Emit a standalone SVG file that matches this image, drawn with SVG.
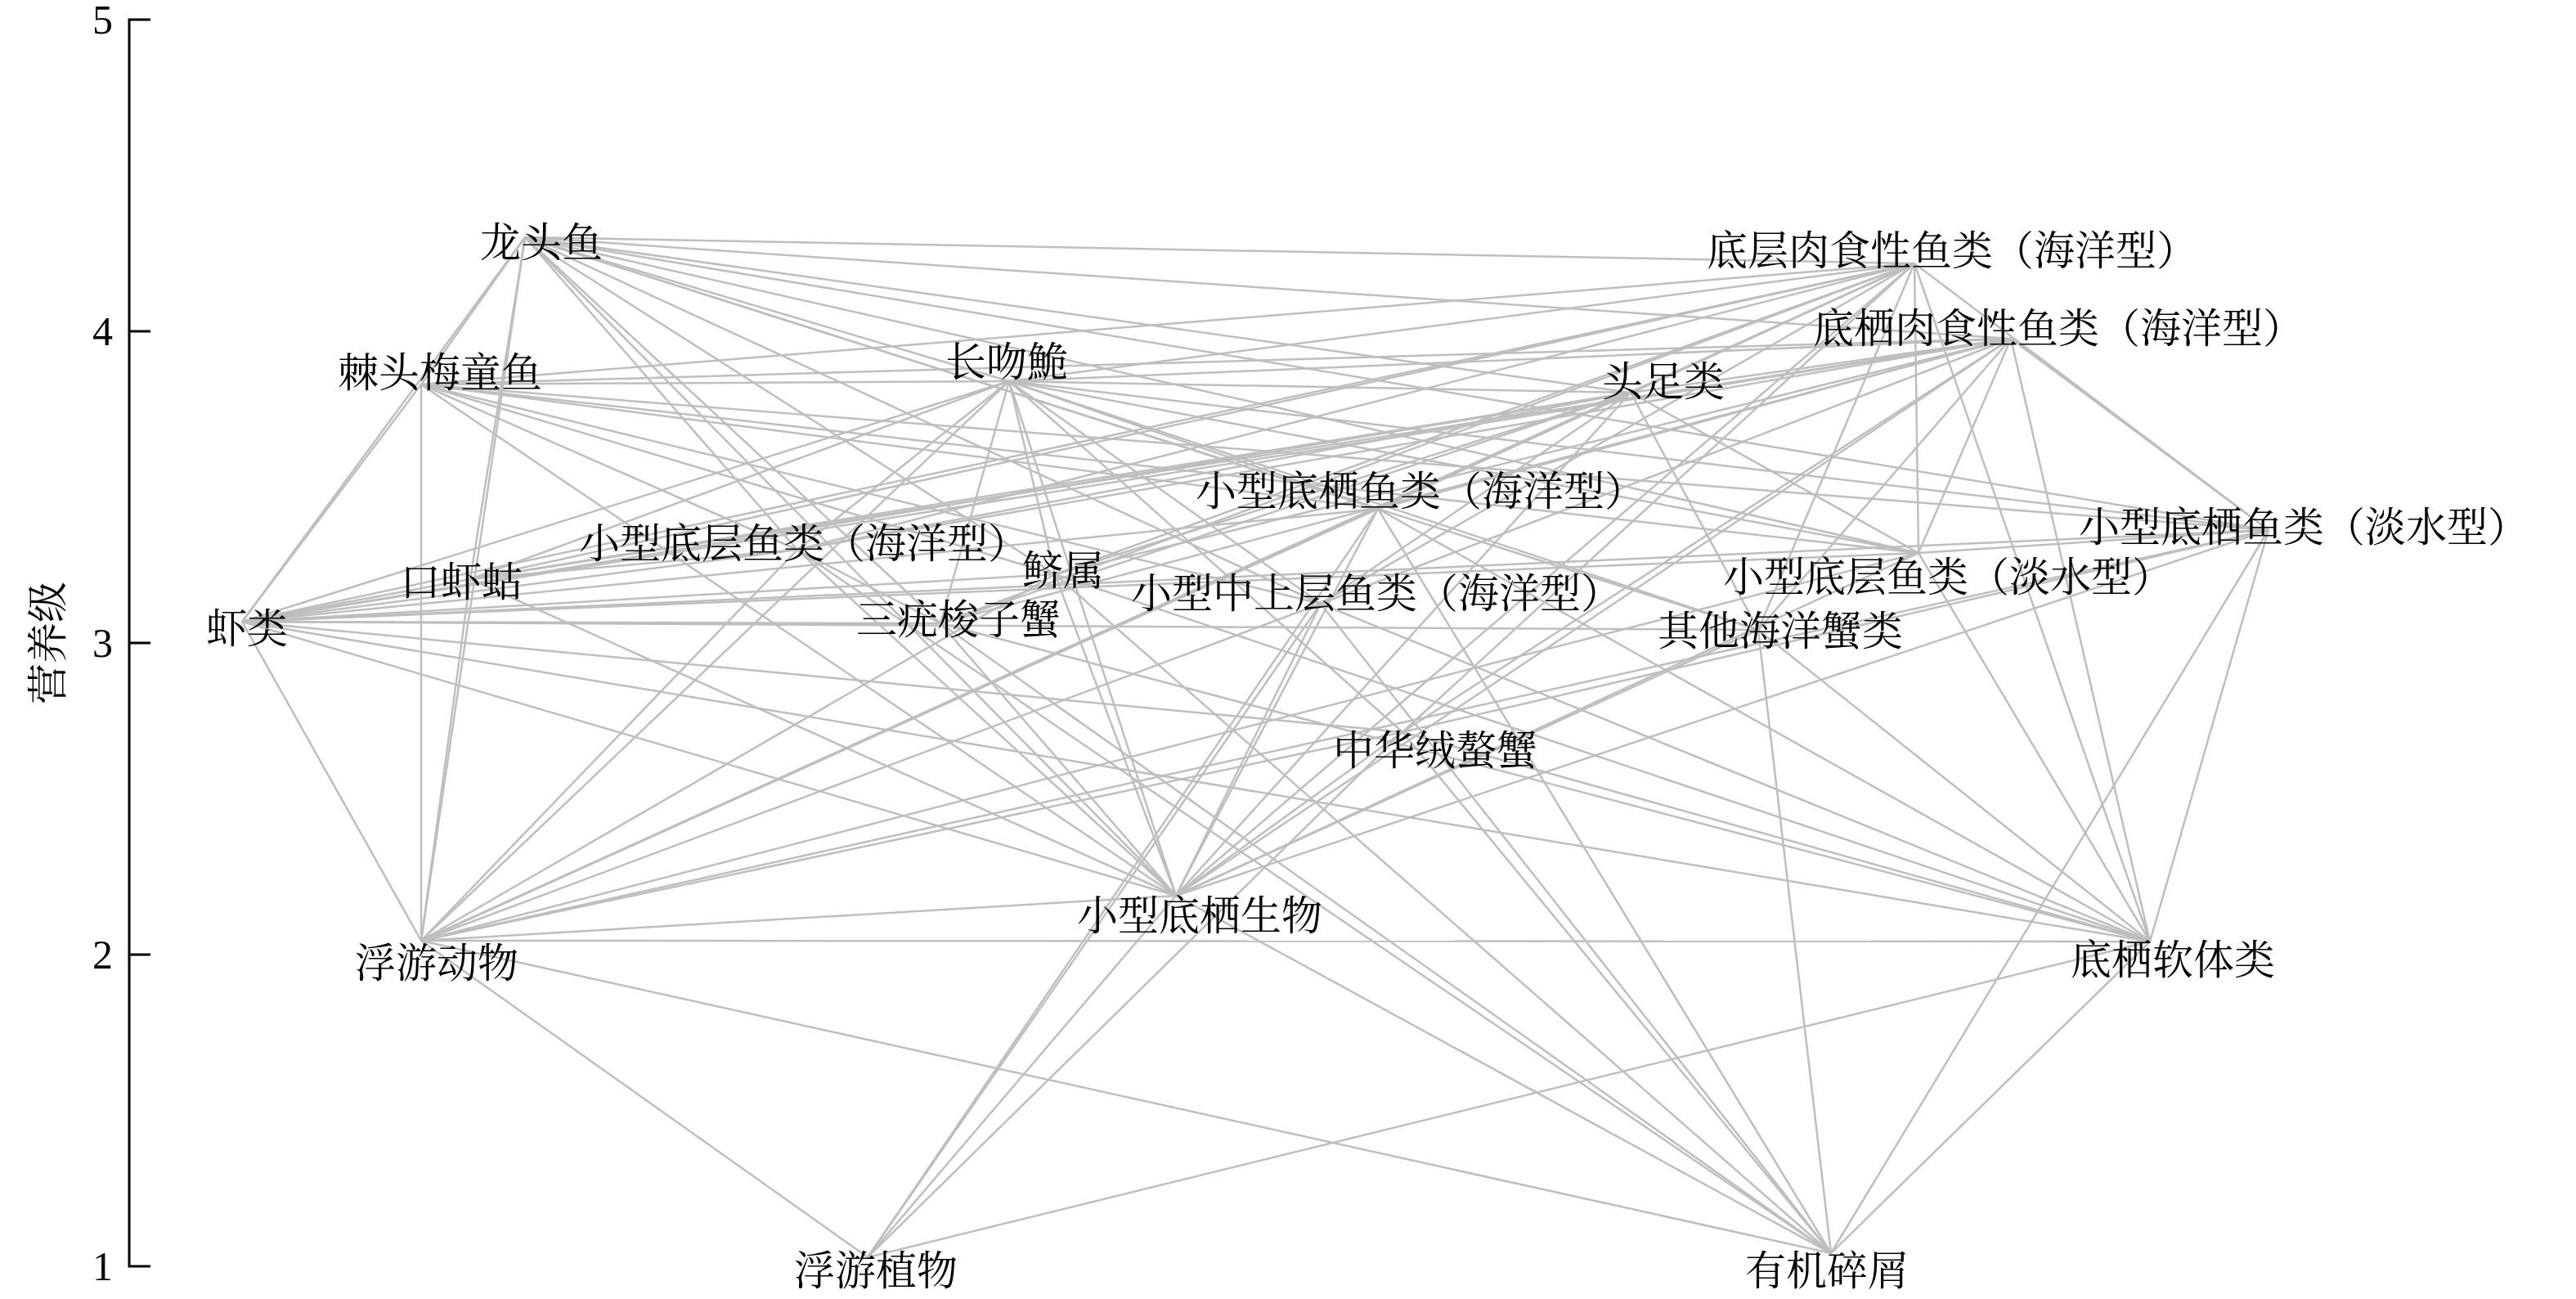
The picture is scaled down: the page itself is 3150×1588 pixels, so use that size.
<svg xmlns="http://www.w3.org/2000/svg" width="3150" height="1588" viewBox="0 0 3150 1588">
<style>
.e line{stroke:#bebebe;stroke-width:2.5;fill:none}
.lbl{font-family:"Liberation Serif","Noto Serif CJK SC","Noto Sans CJK SC",serif;font-size:50px;fill:#000;text-anchor:middle}
.tk{font-family:"Liberation Serif","Noto Serif CJK SC",serif;font-size:50px;fill:#000;text-anchor:end}
.ax{stroke:#000;stroke-width:3;fill:none}
</style>
<rect width="3150" height="1588" fill="#fff"/>
<g id="axis">
<path class="ax" d="M184 24H158V1548H184M158 405H184M158 786H184M158 1167H184"/>
<text class="tk" x="138" y="41">5</text>
<text class="tk" x="138" y="422">4</text>
<text class="tk" x="138" y="803">3</text>
<text class="tk" x="138" y="1184">2</text>
<text class="tk" x="138" y="1565">1</text>
<text class="lbl" transform="translate(76,786) rotate(-90)" x="0" y="0">营养级</text>
</g>
<g id="connectors" class="e">
<line x1="642" y1="290" x2="2341" y2="322"/>
<line x1="642" y1="290" x2="515" y2="470"/>
<line x1="642" y1="290" x2="296" y2="760"/>
<line x1="642" y1="290" x2="515" y2="1150"/>
<line x1="642" y1="290" x2="575" y2="708"/>
<line x1="642" y1="290" x2="1994" y2="480"/>
<line x1="642" y1="290" x2="1685" y2="622"/>
<line x1="642" y1="290" x2="975" y2="672"/>
<line x1="642" y1="290" x2="1290" y2="702"/>
<line x1="642" y1="290" x2="1615" y2="738"/>
<line x1="642" y1="290" x2="2346" y2="676"/>
<line x1="642" y1="290" x2="1150" y2="762"/>
<line x1="642" y1="290" x2="2150" y2="770"/>
<line x1="642" y1="290" x2="2774" y2="648"/>
<line x1="642" y1="290" x2="1234" y2="466"/>
<line x1="642" y1="290" x2="1438" y2="1095"/>
<line x1="642" y1="290" x2="2459" y2="414"/>
<line x1="2341" y1="322" x2="515" y2="470"/>
<line x1="2341" y1="322" x2="1234" y2="466"/>
<line x1="2341" y1="322" x2="1994" y2="480"/>
<line x1="2341" y1="322" x2="1685" y2="622"/>
<line x1="2341" y1="322" x2="975" y2="672"/>
<line x1="2341" y1="322" x2="1290" y2="702"/>
<line x1="2341" y1="322" x2="575" y2="708"/>
<line x1="2341" y1="322" x2="1615" y2="738"/>
<line x1="2341" y1="322" x2="2346" y2="676"/>
<line x1="2341" y1="322" x2="296" y2="760"/>
<line x1="2341" y1="322" x2="1150" y2="762"/>
<line x1="2341" y1="322" x2="2150" y2="770"/>
<line x1="2341" y1="322" x2="1715" y2="895"/>
<line x1="2341" y1="322" x2="1438" y2="1095"/>
<line x1="2341" y1="322" x2="515" y2="1150"/>
<line x1="2341" y1="322" x2="2629" y2="1151"/>
<line x1="2341" y1="322" x2="2774" y2="648"/>
<line x1="2459" y1="414" x2="515" y2="470"/>
<line x1="2459" y1="414" x2="1994" y2="480"/>
<line x1="2459" y1="414" x2="1685" y2="622"/>
<line x1="2459" y1="414" x2="975" y2="672"/>
<line x1="2459" y1="414" x2="575" y2="708"/>
<line x1="2459" y1="414" x2="1615" y2="738"/>
<line x1="2459" y1="414" x2="2346" y2="676"/>
<line x1="2459" y1="414" x2="296" y2="760"/>
<line x1="2459" y1="414" x2="1150" y2="762"/>
<line x1="2459" y1="414" x2="2150" y2="770"/>
<line x1="2459" y1="414" x2="1715" y2="895"/>
<line x1="2459" y1="414" x2="1438" y2="1095"/>
<line x1="2459" y1="414" x2="2629" y2="1151"/>
<line x1="2459" y1="414" x2="2774" y2="648"/>
<line x1="2459" y1="414" x2="1290" y2="702"/>
<line x1="2459" y1="414" x2="1234" y2="466"/>
<line x1="515" y1="470" x2="296" y2="760"/>
<line x1="515" y1="470" x2="515" y2="1150"/>
<line x1="515" y1="470" x2="1438" y2="1095"/>
<line x1="515" y1="470" x2="975" y2="672"/>
<line x1="515" y1="470" x2="1290" y2="702"/>
<line x1="515" y1="470" x2="1615" y2="738"/>
<line x1="515" y1="470" x2="1685" y2="622"/>
<line x1="515" y1="470" x2="2346" y2="676"/>
<line x1="515" y1="470" x2="2774" y2="648"/>
<line x1="515" y1="470" x2="1234" y2="466"/>
<line x1="1234" y1="466" x2="296" y2="760"/>
<line x1="1234" y1="466" x2="515" y2="1150"/>
<line x1="1234" y1="466" x2="1438" y2="1095"/>
<line x1="1234" y1="466" x2="575" y2="708"/>
<line x1="1234" y1="466" x2="975" y2="672"/>
<line x1="1234" y1="466" x2="1290" y2="702"/>
<line x1="1234" y1="466" x2="1150" y2="762"/>
<line x1="1234" y1="466" x2="1615" y2="738"/>
<line x1="1234" y1="466" x2="1685" y2="622"/>
<line x1="1234" y1="466" x2="1715" y2="895"/>
<line x1="1234" y1="466" x2="2150" y2="770"/>
<line x1="1234" y1="466" x2="2346" y2="676"/>
<line x1="1234" y1="466" x2="2774" y2="648"/>
<line x1="1234" y1="466" x2="1994" y2="480"/>
<line x1="1994" y1="480" x2="296" y2="760"/>
<line x1="1994" y1="480" x2="515" y2="1150"/>
<line x1="1994" y1="480" x2="1438" y2="1095"/>
<line x1="1994" y1="480" x2="975" y2="672"/>
<line x1="1994" y1="480" x2="1290" y2="702"/>
<line x1="1994" y1="480" x2="1615" y2="738"/>
<line x1="1994" y1="480" x2="1685" y2="622"/>
<line x1="1994" y1="480" x2="2346" y2="676"/>
<line x1="1994" y1="480" x2="2150" y2="770"/>
<line x1="1994" y1="480" x2="1150" y2="762"/>
<line x1="1994" y1="480" x2="575" y2="708"/>
<line x1="1685" y1="622" x2="296" y2="760"/>
<line x1="1685" y1="622" x2="515" y2="1150"/>
<line x1="1685" y1="622" x2="1438" y2="1095"/>
<line x1="1685" y1="622" x2="2629" y2="1151"/>
<line x1="1685" y1="622" x2="2239" y2="1532"/>
<line x1="1685" y1="622" x2="1061" y2="1537"/>
<line x1="2774" y1="648" x2="296" y2="760"/>
<line x1="2774" y1="648" x2="515" y2="1150"/>
<line x1="2774" y1="648" x2="1438" y2="1095"/>
<line x1="2774" y1="648" x2="2629" y2="1151"/>
<line x1="2774" y1="648" x2="2239" y2="1532"/>
<line x1="2774" y1="648" x2="1715" y2="895"/>
<line x1="2774" y1="648" x2="2346" y2="676"/>
<line x1="2346" y1="676" x2="296" y2="760"/>
<line x1="2346" y1="676" x2="515" y2="1150"/>
<line x1="2346" y1="676" x2="1438" y2="1095"/>
<line x1="2346" y1="676" x2="2629" y2="1151"/>
<line x1="975" y1="672" x2="296" y2="760"/>
<line x1="975" y1="672" x2="515" y2="1150"/>
<line x1="975" y1="672" x2="1438" y2="1095"/>
<line x1="975" y1="672" x2="2239" y2="1532"/>
<line x1="1290" y1="702" x2="515" y2="1150"/>
<line x1="1290" y1="702" x2="296" y2="760"/>
<line x1="1290" y1="702" x2="1438" y2="1095"/>
<line x1="1290" y1="702" x2="2629" y2="1151"/>
<line x1="1290" y1="702" x2="2239" y2="1532"/>
<line x1="575" y1="708" x2="296" y2="760"/>
<line x1="575" y1="708" x2="515" y2="1150"/>
<line x1="575" y1="708" x2="1438" y2="1095"/>
<line x1="575" y1="708" x2="975" y2="672"/>
<line x1="1615" y1="738" x2="515" y2="1150"/>
<line x1="1615" y1="738" x2="1061" y2="1537"/>
<line x1="1615" y1="738" x2="2239" y2="1532"/>
<line x1="1615" y1="738" x2="1438" y2="1095"/>
<line x1="1615" y1="738" x2="2629" y2="1151"/>
<line x1="296" y1="760" x2="515" y2="1150"/>
<line x1="296" y1="760" x2="1438" y2="1095"/>
<line x1="296" y1="760" x2="2629" y2="1151"/>
<line x1="296" y1="760" x2="1715" y2="895"/>
<line x1="1150" y1="762" x2="296" y2="760"/>
<line x1="1150" y1="762" x2="1438" y2="1095"/>
<line x1="1150" y1="762" x2="2629" y2="1151"/>
<line x1="1150" y1="762" x2="2239" y2="1532"/>
<line x1="1150" y1="762" x2="975" y2="672"/>
<line x1="2150" y1="770" x2="1438" y2="1095"/>
<line x1="2150" y1="770" x2="2629" y2="1151"/>
<line x1="2150" y1="770" x2="2239" y2="1532"/>
<line x1="2150" y1="770" x2="296" y2="760"/>
<line x1="1715" y1="895" x2="1061" y2="1537"/>
<line x1="1715" y1="895" x2="2239" y2="1532"/>
<line x1="1715" y1="895" x2="1438" y2="1095"/>
<line x1="1715" y1="895" x2="2629" y2="1151"/>
<line x1="1715" y1="895" x2="515" y2="1150"/>
<line x1="1438" y1="1095" x2="1061" y2="1537"/>
<line x1="1438" y1="1095" x2="2239" y2="1532"/>
<line x1="1438" y1="1095" x2="515" y2="1150"/>
<line x1="515" y1="1150" x2="1061" y2="1537"/>
<line x1="515" y1="1150" x2="2239" y2="1532"/>
<line x1="515" y1="1150" x2="2629" y2="1151"/>
<line x1="2629" y1="1151" x2="1061" y2="1537"/>
<line x1="2629" y1="1151" x2="2239" y2="1532"/>
</g>
<g id="node-longtouyu"><text class="lbl" x="662" y="314">龙头鱼</text></g>
<g id="node-dicengrous"><text class="lbl" x="2387" y="324">底层肉食性鱼类（海洋型）</text></g>
<g id="node-diqirous"><text class="lbl" x="2517" y="419">底栖肉食性鱼类（海洋型）</text></g>
<g id="node-jitou"><text class="lbl" x="538" y="473">棘头梅童鱼</text></g>
<g id="node-changwen"><text class="lbl" x="1231" y="460">长吻鮠</text></g>
<g id="node-touzu"><text class="lbl" x="2034" y="484">头足类</text></g>
<g id="node-xqh"><text class="lbl" x="1737" y="618">小型底栖鱼类（海洋型）</text></g>
<g id="node-xqd"><text class="lbl" x="2817" y="662">小型底栖鱼类（淡水型）</text></g>
<g id="node-xch"><text class="lbl" x="983" y="682">小型底层鱼类（海洋型）</text></g>
<g id="node-jishu"><text class="lbl" x="1300" y="715">鲚属</text></g>
<g id="node-kouxia"><text class="lbl" x="564" y="729">口虾蛄</text></g>
<g id="node-xzh"><text class="lbl" x="1683" y="743">小型中上层鱼类（海洋型）</text></g>
<g id="node-xcd"><text class="lbl" x="2382" y="723">小型底层鱼类（淡水型）</text></g>
<g id="node-xialei"><text class="lbl" x="302" y="786">虾类</text></g>
<g id="node-sanyou"><text class="lbl" x="1172" y="775">三疣梭子蟹</text></g>
<g id="node-qita"><text class="lbl" x="2177" y="789">其他海洋蟹类</text></g>
<g id="node-zhonghua"><text class="lbl" x="1755" y="935">中华绒螯蟹</text></g>
<g id="node-xsw"><text class="lbl" x="1467" y="1137">小型底栖生物</text></g>
<g id="node-fudong"><text class="lbl" x="534" y="1195">浮游动物</text></g>
<g id="node-diqiruan"><text class="lbl" x="2657" y="1191">底栖软体类</text></g>
<g id="node-fuzhi"><text class="lbl" x="1071" y="1571">浮游植物</text></g>
<g id="node-youji"><text class="lbl" x="2234" y="1571">有机碎屑</text></g>
</svg>
